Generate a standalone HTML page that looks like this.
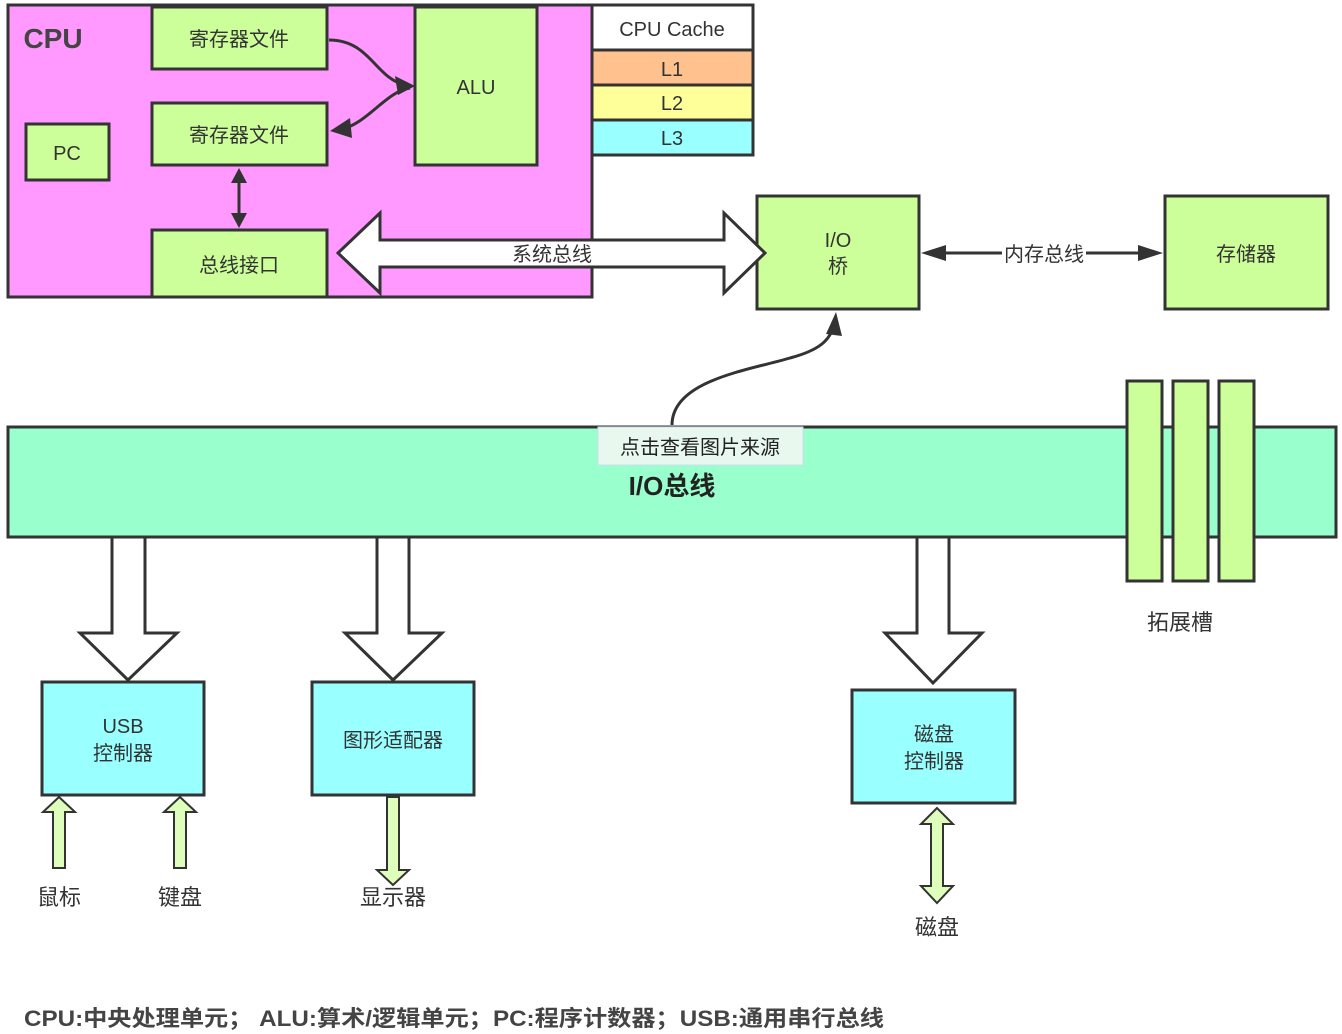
<!DOCTYPE html>
<html><head><meta charset="utf-8"><style>
html,body{margin:0;padding:0;background:#fff;}
svg{display:block;font-family:"Liberation Sans","Noto Sans CJK SC",sans-serif;}
</style></head><body>
<svg width="1342" height="1034" viewBox="0 0 1342 1034" xmlns="http://www.w3.org/2000/svg">
<g stroke="#333" stroke-width="3">
<rect x="8" y="5" width="584" height="292" fill="#ff99ff"/>
<rect x="592" y="5" width="161" height="45" fill="#fff"/>
<rect x="592" y="50" width="161" height="35" fill="#ffc28f"/>
<rect x="592" y="85" width="161" height="35" fill="#ffff99"/>
<rect x="592" y="120" width="161" height="35" fill="#99ffff"/>
<rect x="152" y="7" width="175" height="62" fill="#ccff99"/>
<rect x="152" y="103" width="175" height="62" fill="#ccff99"/>
<rect x="26" y="124" width="83" height="56" fill="#ccff99"/>
<rect x="415" y="7" width="122" height="158" fill="#ccff99"/>
<rect x="152" y="230" width="175" height="67" fill="#ccff99"/>
<rect x="757" y="196" width="162" height="113" fill="#ccff99"/>
<rect x="1165" y="196" width="163" height="113" fill="#ccff99"/>
<rect x="8" y="427" width="1328" height="110" fill="#99ffcc"/>
<rect x="1127" y="381" width="35" height="200" fill="#ccff99"/>
<rect x="1173" y="381" width="35" height="200" fill="#ccff99"/>
<rect x="1219" y="381" width="35" height="200" fill="#ccff99"/>
<rect x="42" y="682" width="162" height="113" fill="#99ffff"/>
<rect x="312" y="682" width="162" height="113" fill="#99ffff"/>
<rect x="852" y="690" width="163" height="113" fill="#99ffff"/>
<polygon points="338,253 380,213 380,240 724,240 724,213 765,253 724,293 724,267 380,267 380,293" fill="#fff"/>
<polygon points="112,537 112,633 80,633 128,680 177,633 145,633 145,537" fill="#fff"/>
<polygon points="377,537 377,633 345,633 393,680 442,633 409,633 409,537" fill="#fff"/>
<polygon points="917,537 917,633 885,633 933,683 982,633 949,633 949,537" fill="#fff"/>
<g stroke-width="2" fill="#ddffbb">
<polygon points="53,868 53,812 43,812 59,797 75,812 65,812 65,868"/>
<polygon points="174,868 174,812 164,812 180,797 196,812 186,812 186,868"/>
<polygon points="387,797 387,870 377,870 393,885 409,870 399,870 399,797"/>
<polygon points="937,808 921,824 931,824 931,886 921,886 937,903 953,886 943,886 943,824 953,824"/>
</g>
</g>
<g stroke="#333" stroke-width="3" fill="none">
<path d="M329,40 C370,40 375,78 405,85"/>
<path d="M410,88 C385,92 370,122 340,130"/>
<line x1="239" y1="180" x2="239" y2="215"/>
<line x1="935" y1="253" x2="1150" y2="253"/>
<path d="M672,425 C672,380 750,370 790,358 C820,350 830,340 834,325"/>
</g>
<g fill="#333">
<polygon points="415,86 395,76 398,95"/>
<polygon points="330,131 350,118 352,138"/>
<polygon points="239,168 231,183 247,183"/>
<polygon points="239,228 231,213 247,213"/>
<polygon points="921,253 946,245 946,261"/>
<polygon points="1163,253 1138,245 1138,261"/>
<polygon points="836,312 826,334 842,336"/>
</g>
<rect x="1002" y="243" width="84" height="20" fill="#fff"/>
<rect x="598" y="427" width="205" height="38" fill="#e8f8ee" stroke="#cde" stroke-width="1"/>
<g fill="#333" font-size="20" text-anchor="middle">
<text x="53" y="48" font-size="28" font-weight="bold" fill="#444">CPU</text>
<text x="239" y="46">寄存器文件</text>
<text x="239" y="142">寄存器文件</text>
<text x="67" y="160">PC</text>
<text x="476" y="94">ALU</text>
<text x="239" y="272">总线接口</text>
<text x="672" y="36">CPU Cache</text>
<text x="672" y="76">L1</text>
<text x="672" y="110">L2</text>
<text x="672" y="145">L3</text>
<text x="552" y="261">系统总线</text>
<text x="838" y="247">I/O</text>
<text x="838" y="273">桥</text>
<text x="1044" y="261">内存总线</text>
<text x="1246" y="261">存储器</text>
<text x="700" y="454" fill="#222">点击查看图片来源</text>
<text x="672" y="495" font-size="26" font-weight="bold" fill="#222">I/O总线</text>
<text x="1180" y="630" font-size="22">拓展槽</text>
<text x="123" y="733">USB</text>
<text x="123" y="760">控制器</text>
<text x="393" y="747">图形适配器</text>
<text x="934" y="741">磁盘</text>
<text x="934" y="768">控制器</text>
<text x="59" y="905" font-size="22">鼠标</text>
<text x="180" y="905" font-size="22">键盘</text>
<text x="393" y="905" font-size="22">显示器</text>
<text x="937" y="935" font-size="22">磁盘</text>
<text x="24" y="1026" font-size="22" font-weight="bold" text-anchor="start" fill="#444" textLength="860" lengthAdjust="spacingAndGlyphs">CPU:中央处理单元； ALU:算术/逻辑单元；PC:程序计数器；USB:通用串行总线</text>
</g>
</svg>
</body></html>
